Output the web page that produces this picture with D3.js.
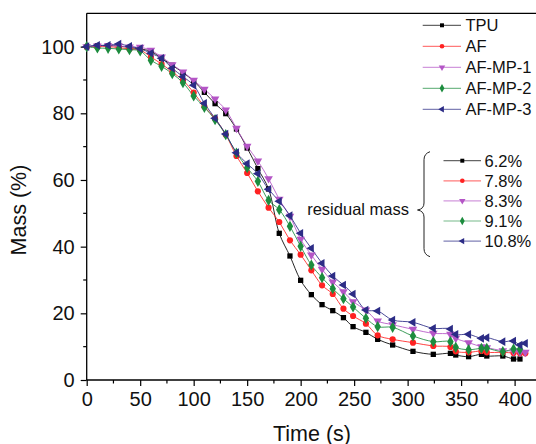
<!DOCTYPE html>
<html>
<head>
<meta charset="utf-8">
<script src="https://cdn.jsdelivr.net/npm/d3@7/dist/d3.min.js"></script>
<style>
  html, body { margin: 0; padding: 0; background: #fff; }
  svg { display: block; font-family: "Liberation Sans", Arial, sans-serif; }
</style>
</head>
<body>
<svg id="chart" width="536" height="444"></svg>
<script>
// ---- data ----
const seriesNames = ["TPU", "AF", "AF-MP-1", "AF-MP-2", "AF-MP-3"];
const residualLabels = ["6.2%", "7.8%", "8.3%", "9.1%", "10.8%"];

const tTPU = [0,10,20,30,40,50,60,70,80,90,100,110,120,130,140,150,160,170,180,190,200,210,220,230,240,249,261,272,286,305,324,340,345,357,369,374,389,399,405];
const yTPU = [100,100.3,100.3,100.2,99.7,99.3,98.6,96.5,94.4,92.2,89.7,86.3,82.9,79.9,75.3,69.6,63.4,57.3,44.0,37.2,29.9,25.6,22.6,20.8,18.7,16.0,14.3,12.2,10.5,8.6,7.7,8.0,7.5,7.0,7.7,7.2,7.2,6.3,6.3];

const tAF = [0,10,20,30,40,50,60,70,80,90,100,110,120,130,140,150,160,170,180,190,200,210,220,230,240,249,261,272,286,305,324,340,345,357,369,374,389,399,405,410];
const yAF = [100,100,100,99.7,99.3,99.0,96.9,94.8,92.4,89.9,86.2,82.0,78.4,73.6,67.2,62.1,56.6,51.7,47.4,41.9,37.6,32.9,28.4,25.8,21.4,19.2,16.9,13.4,12.2,11.2,10.2,9.9,8.6,8.3,8.7,8.3,8.3,8.1,8.0,8.0];

const tMP1 = [0,10,20,30,40,50,60,70,80,90,100,110,120,130,140,150,160,170,180,190,200,210,220,230,240,249,261,272,286,305,324,340,345,357,369,374,389,399,405,410];
const yMP1 = [100,100.2,100.3,100.2,99.9,99.8,98.9,96.9,94.6,92.4,89.9,87.2,84.3,81.0,75.5,70.1,65.7,60.4,54.2,49.1,42.2,37.5,33.2,29.4,26.5,23.5,21.0,17.7,16.6,15.2,14.0,13.7,12.5,11.2,10.0,9.7,8.8,8.7,8.3,8.3];

const tMP2 = [0,10,20,30,40,50,60,70,80,90,100,110,120,130,140,150,160,170,180,190,200,210,220,230,240,249,261,272,286,305,324,340,345,357,369,374,389,399,405];
const yMP2 = [100,99.6,99.5,99.3,99.1,98.7,95.9,94.1,91.9,89.2,85.2,81.8,78.1,73.6,68.1,63.7,59.6,53.9,51.1,46.1,40.1,34.5,30.7,27.4,24.4,21.9,18.5,16.0,15.8,13.2,11.5,11.5,9.8,9.1,9.5,9.5,8.5,9.3,9.2];

const tMP3 = [0,10,20,30,40,50,60,70,80,90,100,110,120,130,140,150,160,170,180,190,200,210,220,230,240,249,261,272,286,305,324,340,345,357,369,374,389,399,405,410];
const yMP3 = [100,100.4,100.4,100.8,100.1,99.4,98.0,96.5,93.5,91.0,88.4,83.0,78.5,73.8,68.2,64.9,61.9,57.2,53.6,49.3,44.0,39.5,35.0,31.2,28.5,25.8,21.0,20.7,18.0,17.3,15.5,15.3,13.7,13.7,12.5,12.7,11.5,11.7,10.5,11.0];

const xTicks = [0,50,100,150,200,250,300,350,400];
const yTicks = [0,20,40,60,80,100];

// ---- styles (kept separate) ----
const colors = ["#000000", "#ff2222", "#b455c6", "#1c8c3e", "#2c2c86"];
const symbolDefs = [
  { type: d3.symbolSquare, size: 28, rot: 0 },
  { type: d3.symbolCircle, size: 30, rot: 0 },
  { type: d3.symbolTriangle, size: 32, rot: 180 },
  { type: d3.symbolDiamond, size: 36, rot: 0 },
  { type: d3.symbolTriangle, size: 32, rot: -90 }
];

const series = [
  { name: seriesNames[0], t: tTPU, y: yTPU },
  { name: seriesNames[1], t: tAF, y: yAF },
  { name: seriesNames[2], t: tMP1, y: yMP1 },
  { name: seriesNames[3], t: tMP2, y: yMP2 },
  { name: seriesNames[4], t: tMP3, y: yMP3 }
];

const svg = d3.select("#chart");
const mLeft = 86.7, mRight = 536, mTop = 13.3, mBottom = 380;
const x = d3.scaleLinear().domain([0, 420]).range([mLeft, mRight]);
const y = d3.scaleLinear().domain([0, 110]).range([mBottom, mTop]);

// frame (top line; right edge lies beyond the picture)
svg.append("line").attr("x1", mLeft).attr("x2", mRight + 2).attr("y1", mTop).attr("y2", mTop)
  .attr("stroke", "#000").attr("stroke-width", 1.3);

// x axis
const xAxis = d3.axisBottom(x).tickValues(xTicks).tickSize(6).tickPadding(6).tickFormat(d3.format("d"));
const gx = svg.append("g").attr("transform", `translate(0,${mBottom})`).call(xAxis);
const xMinor = d3.range(25, 420, 50);
gx.selectAll(".minor").data(xMinor).enter().append("line").attr("class", "minor")
  .attr("x1", d => x(d)).attr("x2", d => x(d)).attr("y1", 0).attr("y2", 3.5).attr("stroke", "#000").attr("stroke-width", 1.2);

// y axis
const yAxis = d3.axisLeft(y).tickValues(yTicks).tickSize(6).tickPadding(6).tickFormat(d3.format("d"));
const gy = svg.append("g").attr("transform", `translate(${mLeft},0)`).call(yAxis);
const yMinor = d3.range(10, 110, 20);
gy.selectAll(".minor").data(yMinor).enter().append("line").attr("class", "minor")
  .attr("x1", 0).attr("x2", -3.5).attr("y1", d => y(d)).attr("y2", d => y(d)).attr("stroke", "#000").attr("stroke-width", 1.2);

[gx, gy].forEach(g => {
  g.select(".domain").attr("stroke", "#000").attr("stroke-width", 1.3);
  g.selectAll(".tick line").attr("stroke", "#000").attr("stroke-width", 1.2);
  g.selectAll(".tick text").attr("font-size", 20).attr("fill", "#111")
    .attr("font-family", "'Liberation Sans', Arial, sans-serif");
});
gx.select(".domain").attr("d", `M${mLeft},0H${mRight + 2}`);
gy.select(".domain").attr("d", `M0,${mBottom}V${mTop}`);

// axis titles
svg.append("text").attr("x", 312).attr("y", 440.5).attr("text-anchor", "middle")
  .attr("font-size", 21.5).attr("fill", "#111").text("Time (s)");
svg.append("text").attr("transform", "translate(26,210) rotate(-90)").attr("text-anchor", "middle")
  .attr("font-size", 21.5).attr("fill", "#111").text("Mass (%)");

// lines & markers
const line = d3.line().x(d => x(d[0])).y(d => y(d[1])).curve(d3.curveCatmullRom.alpha(0.5));
const sym = (i) => d3.symbol().type(symbolDefs[i].type).size(symbolDefs[i].size)();

series.forEach((s, i) => {
  const pts = s.t.map((t, k) => [t, s.y[k]]);
  svg.append("path").datum(pts).attr("d", line).attr("fill", "none")
    .attr("stroke", colors[i]).attr("stroke-width", 1).attr("stroke-opacity", 0.85);
});
series.forEach((s, i) => {
  const pts = s.t.map((t, k) => [t, s.y[k]]);
  svg.append("g").selectAll("path").data(pts).enter().append("path")
    .attr("d", sym(i))
    .attr("transform", d => `translate(${x(d[0])},${y(d[1])}) rotate(${symbolDefs[i].rot})`)
    .attr("fill", colors[i]);
});

// legend (series names)
const lg = svg.append("g").attr("font-size", 16.5).attr("fill", "#111");
seriesNames.forEach((n, i) => {
  const yy = 25.3 + i * 21;
  lg.append("line").attr("x1", 422.7).attr("x2", 461).attr("y1", yy).attr("y2", yy)
    .attr("stroke", colors[i]).attr("stroke-width", 1.2).attr("stroke-opacity", 0.6);
  lg.append("path").attr("d", sym(i)).attr("transform", `translate(442,${yy}) rotate(${symbolDefs[i].rot}) scale(0.75)`).attr("fill", colors[i]);
  lg.append("text").attr("x", 465.5).attr("y", yy).attr("dy", "0.36em").text(n);
});

// residual mass legend
const rg = svg.append("g").attr("font-size", 16.5).attr("fill", "#111");
residualLabels.forEach((n, i) => {
  const yy = 160.7 + i * 20.1;
  rg.append("line").attr("x1", 443.5).attr("x2", 481).attr("y1", yy).attr("y2", yy)
    .attr("stroke", colors[i]).attr("stroke-width", 1.2).attr("stroke-opacity", 0.6);
  rg.append("path").attr("d", sym(i)).attr("transform", `translate(462.3,${yy}) rotate(${symbolDefs[i].rot}) scale(0.75)`).attr("fill", colors[i]);
  rg.append("text").attr("x", 484.5).attr("y", yy).attr("dy", "0.36em").text(n);
});
rg.append("text").attr("x", 409).attr("y", 209).attr("dy", "0.36em").attr("text-anchor", "end").text("residual mass");

// curly brace
const bx = 424, btop = 151.7, bbot = 256.7, bmid = 210;
svg.append("path")
  .attr("d", `M${bx + 6},${btop} Q${bx},${btop + 2} ${bx},${btop + 8} L${bx},${bmid - 7} Q${bx},${bmid - 1} ${bx - 6.5},${bmid} Q${bx},${bmid + 1} ${bx},${bmid + 7} L${bx},${bbot - 8} Q${bx},${bbot - 2} ${bx + 6},${bbot}`)
  .attr("fill", "none").attr("stroke", "#222").attr("stroke-width", 1);
</script>
</body>
</html>
